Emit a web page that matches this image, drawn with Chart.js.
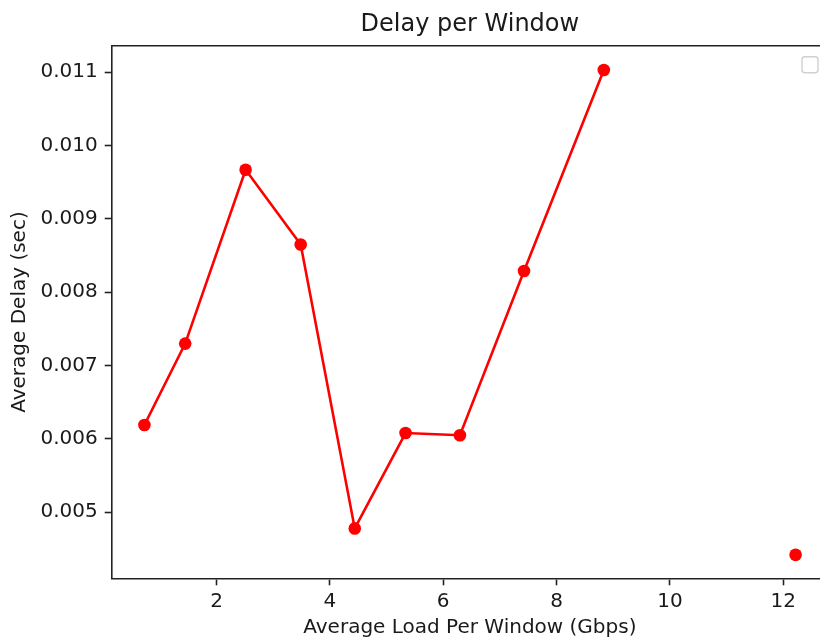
<!DOCTYPE html>
<html>
<head>
<meta charset="utf-8">
<title>Delay per Window</title>
<script src="https://cdn.jsdelivr.net/npm/chart.js@4.4.1/dist/chart.umd.min.js"></script>
<style>
  html, body { margin: 0; padding: 0; background: #fff; overflow: hidden; }
  #wrap { width: 840px; height: 642px; }
</style>
</head>
<body>
<div id="wrap"><canvas id="delayChart" width="840" height="642"></canvas></div>
<script>
// Values (the null pair is the break before the last point)
const loads  = [0.727, 1.447, 2.513, 3.485, 4.439, 5.335, 6.295, 7.426, 8.834, null, 12.218];
const delays = [0.00619, 0.00730, 0.00967, 0.00865, 0.00478, 0.00608, 0.00605, 0.00829, 0.01103, null, 0.00442];

const xTicks = [2, 4, 6, 8, 10, 12];
const yTicks = [0.005, 0.006, 0.007, 0.008, 0.009, 0.010, 0.011];

const FONT = 'DejaVu Sans';
const INK = '#1a1a1a';

// top spine + empty legend box (matplotlib leaves an empty frame)
const framePlugin = {
    id: 'frame',
    afterDraw(chart) {
        const { ctx, chartArea: a } = chart;
        ctx.save();
        ctx.strokeStyle = '#222';
        ctx.lineWidth = 1.6;
        ctx.beginPath();
        ctx.moveTo(a.left, a.top);
        ctx.lineTo(a.right, a.top);
        ctx.stroke();

        // empty legend
        const w = 16, h = 16;
        const x = a.right - 10 - w, y = a.top + 11;
        ctx.fillStyle = 'rgba(255,255,255,0.8)';
        ctx.strokeStyle = '#d0d0d0';
        ctx.lineWidth = 1.4;
        ctx.beginPath();
        ctx.roundRect(x, y, w, h, 3);
        ctx.fill();
        ctx.stroke();
        ctx.restore();
    }
};

function createChart() {
    const points = loads.map((x, i) => ({ x: x, y: delays[i] }));

    const ctx = document.getElementById('delayChart').getContext('2d');
    new Chart(ctx, {
        type: 'line',
        data: {
            datasets: [{
                data: points,
                borderColor: '#ff0000',
                backgroundColor: '#ff0000',
                borderWidth: 2.6,
                pointRadius: 6.3,
                pointBorderWidth: 0,
                pointBackgroundColor: '#ff0000',
                spanGaps: false,
                tension: 0
            }]
        },
        options: {
            responsive: false,
            animation: false,
            layout: { padding: { left: 0, top: 0, right: 12, bottom: 0 } },
            plugins: {
                legend: { display: false },
                tooltip: { enabled: false },
                title: {
                    display: true,
                    text: 'Delay per Window',
                    fullSize: false,
                    color: INK,
                    font: { family: FONT, size: 24, weight: 'normal' },
                    padding: { top: 10, bottom: 7 }
                }
            },
            scales: {
                x: {
                    type: 'linear',
                    min: 0.15,
                    max: 12.79,
                    afterBuildTicks: s => { s.ticks = xTicks.map(v => ({ value: v })); },
                    afterFit: s => { s.height = 63.7; },
                    grid: { drawOnChartArea: false, tickLength: 7, tickWidth: 1.6, tickColor: '#222' },
                    border: { display: true, color: '#222', width: 1.6 },
                    ticks: {
                        color: INK,
                        font: { family: FONT, size: 20 },
                        padding: 4,
                        maxRotation: 0,
                        callback: v => String(v)
                    },
                    title: {
                        display: true,
                        text: 'Average Load Per Window (Gbps)',
                        color: INK,
                        font: { family: FONT, size: 20 },
                        padding: { top: 0, bottom: 2 }
                    }
                },
                y: {
                    type: 'linear',
                    min: 0.0041,
                    max: 0.01136,
                    afterBuildTicks: s => { s.ticks = yTicks.map(v => ({ value: v })); },
                    afterFit: s => { s.width = 111.7; },
                    grid: { drawOnChartArea: false, tickLength: 7, tickWidth: 1.6, tickColor: '#222' },
                    border: { display: true, color: '#222', width: 1.6 },
                    ticks: {
                        color: INK,
                        font: { family: FONT, size: 20 },
                        padding: 7,
                        callback: v => v.toFixed(3)
                    },
                    title: {
                        display: true,
                        text: 'Average Delay (sec)',
                        color: INK,
                        font: { family: FONT, size: 20 },
                        padding: { top: 8, bottom: 0 }
                    }
                }
            }
        },
        plugins: [framePlugin]
    });
}

window.onload = createChart;
</script>
</body>
</html>
